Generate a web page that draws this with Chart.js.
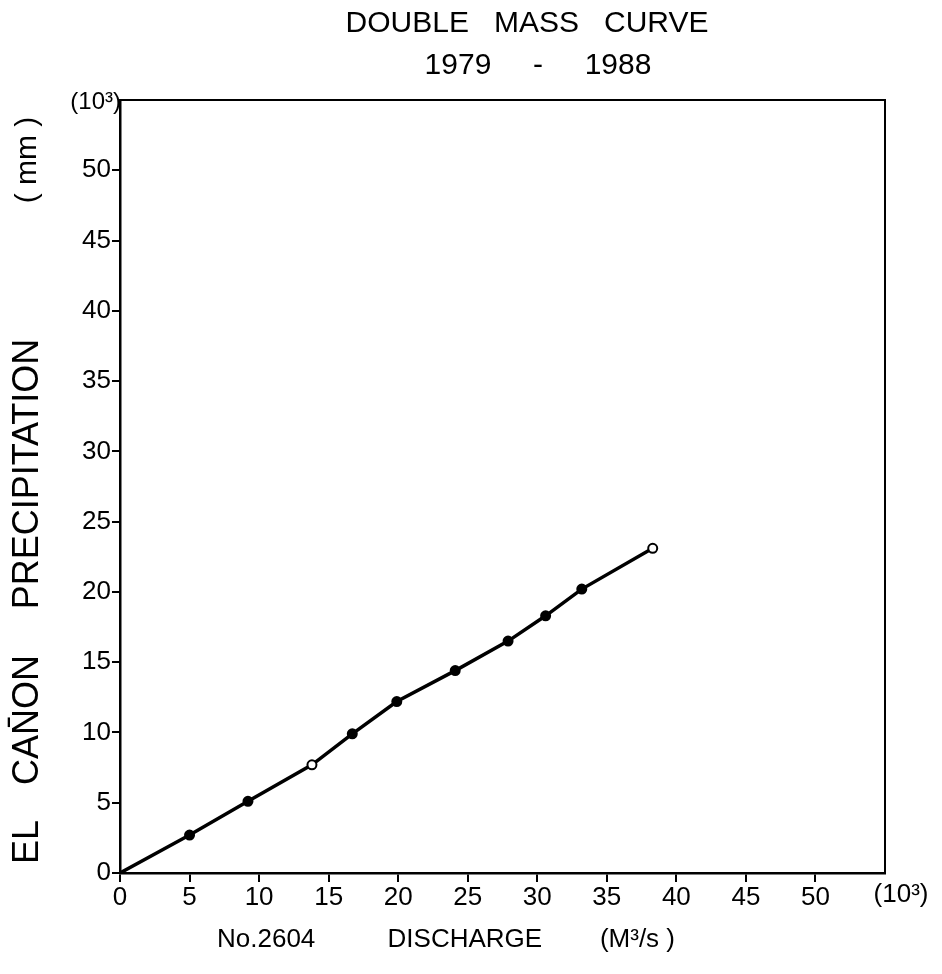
<!DOCTYPE html>
<html>
<head>
<meta charset="utf-8">
<script src="https://cdn.jsdelivr.net/npm/chart.js@4.4.0/dist/chart.umd.min.js"></script>
<style>
  html, body { margin: 0; padding: 0; background: #ffffff; }
  #wrap { width: 942px; height: 974px; position: relative; }
</style>
</head>
<body>
<div id="wrap"><canvas id="c" width="942" height="974"></canvas></div>
<script>
// ---- data ----
const discharge = [0, 5.0, 9.2, 13.8, 16.7, 19.9, 24.1, 27.9, 30.6, 33.2, 38.3];     // No.2604 discharge (10^3 m3/s)
const precipitation = [0, 2.7, 5.1, 7.7, 9.9, 12.2, 14.4, 16.5, 18.3, 20.2, 23.1];  // El Cañon precipitation (10^3 mm)
const hollowPoint = [false, false, false, true, false, false, false, false, false, false, true];
const xTickValues = [0, 5, 10, 15, 20, 25, 30, 35, 40, 45, 50];
const yTickValues = [0, 5, 10, 15, 20, 25, 30, 35, 40, 45, 50];

const titleText = 'DOUBLE   MASS   CURVE';
const subtitleText = '1979     -     1988';
const xTitleText = 'No.2604          DISCHARGE        (M³/s )';
const yTitleWords = ['EL', 'CAN\u0304ON', 'PRECIPITATION', '( mm )'];
const unitText = '(10³)';

const FONT = "'Liberation Sans', 'DejaVu Sans', Arial, sans-serif";

const points = discharge.map((x, i) => ({ x: x, y: precipitation[i] }));

const frame = {
  id: 'frame',
  afterDraw(chart) {
    const { ctx, chartArea: a } = chart;
    ctx.save();
    ctx.strokeStyle = '#000';
    ctx.lineWidth = 2;
    ctx.beginPath();
    ctx.moveTo(a.left, a.top);
    ctx.lineTo(a.right, a.top);
    ctx.lineTo(a.right, a.bottom);
    ctx.stroke();

    ctx.fillStyle = '#000';
    ctx.textAlign = 'center';
    ctx.textBaseline = 'middle';
    ctx.font = '30px ' + FONT;
    ctx.fillText(titleText, 527, 24);
    ctx.fillText(subtitleText, 538, 66);

    ctx.font = '26px ' + FONT;
    ctx.textAlign = 'left';
    ctx.fillText(xTitleText, 217, 940);
    ctx.textAlign = 'center';
    ctx.fillText(unitText, a.right + 16, a.bottom + 22);
    ctx.textAlign = 'right';
    ctx.font = '24px ' + FONT;
    ctx.fillText(unitText, a.left + 1, a.top + 2);

    // vertical axis title, word by word (centres along the axis, top to bottom)
    const centres = [842, 720, 474, 160];
    const sizes = [36, 36, 36, 30];
    for (let i = 0; i < yTitleWords.length; i++) {
      ctx.save();
      ctx.translate(28, centres[i]);
      ctx.rotate(-Math.PI / 2);
      ctx.textAlign = 'center';
      ctx.font = sizes[i] + 'px ' + FONT;
      ctx.fillText(yTitleWords[i], 0, 0);
      ctx.restore();
    }
    ctx.restore();
  }
};

new Chart(document.getElementById('c'), {
  type: 'line',
  data: {
    datasets: [{
      data: points,
      borderColor: '#000',
      borderWidth: 3.5,
      tension: 0,
      pointRadius: discharge.map((x, i) => i === 0 ? 0 : 4.5),
      pointBackgroundColor: hollowPoint.map(h => h ? '#fff' : '#000'),
      pointBorderColor: '#000',
      pointBorderWidth: 2
    }]
  },
  options: {
    responsive: false,
    animation: false,
    layout: { padding: { top: 100, right: 57, left: 0, bottom: 0 } },
    plugins: { legend: { display: false }, tooltip: { enabled: false }, title: { display: false } },
    scales: {
      x: {
        type: 'linear', min: 0, max: 55,
        afterBuildTicks: s => { s.ticks = xTickValues.map(v => ({ value: v })); },
        afterFit: s => { s.height = 101; },
        border: { display: true, color: '#000', width: 2.5 },
        grid: { display: true, drawOnChartArea: false, drawTicks: true, tickLength: 9, color: '#000', lineWidth: 2 },
        ticks: { color: '#000', font: { family: FONT, size: 26 }, padding: 0, maxRotation: 0, autoSkip: false }
      },
      y: {
        type: 'linear', min: 0, max: 55,
        afterBuildTicks: s => { s.ticks = yTickValues.map(v => ({ value: v })); },
        afterFit: s => { s.width = 120; },
        border: { display: true, color: '#000', width: 2.5 },
        grid: { display: true, drawOnChartArea: false, drawTicks: true, tickLength: 8, color: '#000', lineWidth: 2 },
        ticks: { color: '#000', font: { family: FONT, size: 26 }, padding: 1, autoSkip: false }
      }
    }
  },
  plugins: [frame]
});
</script>
</body>
</html>
